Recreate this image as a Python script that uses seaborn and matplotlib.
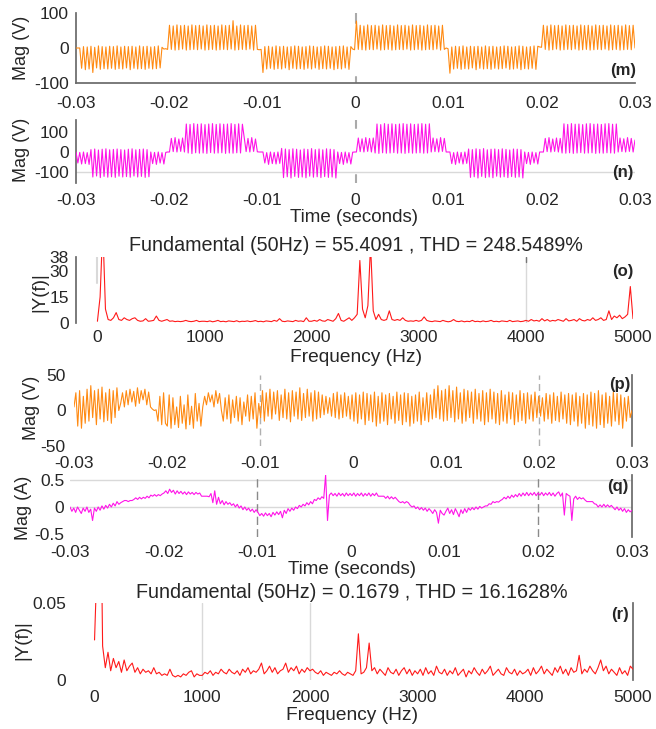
import numpy as np
import pandas as pd
import matplotlib
matplotlib.use("Agg")
import matplotlib.pyplot as plt
import seaborn as sns

sns.set_theme(style="white")
plt.rcParams['font.family'] = ['Liberation Sans', 'DejaVu Sans']

# ---------------- data ----------------
# (m) phase voltage, 0.2 ms samples, one list per 10 ms
m1 = [0,0,0,-58,4,-62,3,-60,5,-70,2,-57,6,-61,4,-59,3,-60,5,-58,4,-61,6,-59,3,-60,5,-57,4,-62,5,-58,3,-60,6,-59,4,-61,5,-58,3,-60,4,-59,6,-57,2,-3,-2,-4]
m2 = [65,-4,63,-6,66,-5,64,-3,65,-6,63,-5,66,-4,64,-5,65,-3,63,-6,66,-5,64,-4,65,-6,63,-5,66,-4,64,-5,65,-3,78,-6,63,-5,66,-4,64,-5,65,-3,63,-6,65,-4,-5,-4]
m3 = [-70,4,-60,5,-58,3,-61,6,-59,4,-60,5,-57,3,-62,4,-58,6,-60,5,-59,3,-61,4,-58,6,-60,5,-57,3,-61,4,-59,6,-60,5,-58,3,-62,4,-59,5,-60,6,-57,3,-61,4,-3,-5]
m4 = [77,-4,65,-5,63,-6,66,-4,64,-5,65,-3,63,-6,66,-5,64,-4,65,-6,63,-5,66,-4,64,-5,65,-3,63,-6,66,-5,64,-4,65,-6,63,-5,66,-4,64,-5,65,-3,63,-6,65,-4,0,-2]
m5 = [-72,3,-60,5,-58,4,-61,6,-59,3,-60,5,-57,4,-62,5,-58,3,-60,6,-59,4,-61,5,-58,3,-60,4,-59,6,-57,5,-61,3,-60,4,-58,6,-62,5,-59,3,-60,4,-58,6,-61,5,3,2]
m6 = [65,-4,63,-6,66,-5,64,-3,65,-6,63,-5,66,-4,64,-5,65,-3,63,-6,66,-5,64,-4,65,-6,63,-5,66,-4,64,-5,65,-3,63,-6,66,-5,64,-4,65,-6,63,-5,66,-4,64,-5,65,0]

# (n) line voltage
n1 = [0,-55,-2,-60,0,-58,-3,-62, 12,-125,15,-120,10,-128,14,-122,16,-126,11,-124,13,-127,15,-121,12,-125,10,-123,14,-126,16,-120,11,-125,13,-122,15,-127,12,-124, 0,-58,-2,-62,0,-55,-3,-60, -2,0]
n2 = [0,68,2,72,0,65,3,70,0, 140,-5,138,-8,142,-4,139,-6,141,-5,137,-7,140,-3,142,-6,138,-5,141,-4,139,-7,140,-5,142,-6,138,-4,141,-5,139, 70,2,68,0,72,3,65,1, 0,0]
n3 = [0,-55,-3,-62,0,-58,-2,-60,0,-57, 18,-128,15,-124,12,-130,16,-122,14,-127,10,-125,15,-129,13,-121,17,-126,12,-124,15,-128,11,-123,16,-127,14,-125,12,-130, 0,-58,-2,-62,0,-55,-3,-60,-1, 0]
n4 = [0,70,2,66,0,72,3,68,0,70, -5,140,-7,137,-4,142,-6,139,-5,141,-3,138,-6,140,-5,142,-7,139,-4,141,-6,138,-5,140,-4,142,-6,139,-5,141, 0,70,2,66,0,72,3,68, 0,0]
n5 = [0,-58,-3,-62,0,-55,-2,-60,0,-57, 15,-127,12,-124,16,-130,13,-122,17,-128,11,-125,14,-129,15,-121,12,-126,16,-124,13,-128,10,-123,15,-127,14,-125,12,-130, 0,-58,-2,-62,0,-55,-3,-60, 0,0]
n6 = [0,68,2,72,0,65,3,70,0,68, -5,141,-6,138,-4,142,-7,139,-5,140,-3,137,-6,141,-5,142,-4,139,-7,140,-5,138,-6,141,-4,142,-5,139,-6,140, 0,70,2,66,0,72,3,68,0,60]

# (o) spectrum of (n), 25 Hz bins
o1 = [1,15,55.4,8,2,1.5,3,6,2,1.5,3,2,1.5,2.5,3,1.5,1,1.2,2.5,1,1.2,1.5,4,1.5,1,1.5,2,1,1.2,0.8,1,0.8,1,1.5,1,0.8,1,1.5,0.8,1]
o2 = [1,0.8,1.2,0.7,1,1.5,0.8,1,0.7,1.2,1,0.8,1.3,0.7,1,0.9,1.2,0.8,1,1.4,0.8,1,0.7,1.2,1,0.8,1.5,1,2.5,1,0.8,1.2,1,0.8,1.5,1,1.2,0.8,3,1]
o3 = [1,1.5,1,2,1.2,1,2,1.5,1,2.5,5.5,1.5,1,2,3,1.5,3,5,36,8,3,10,45,7,2,5,2,1.5,2,7,2,1.5,2,1.5,3,1.5,1,1.2,1,1.5]
o4 = [1,1.5,3.5,1.5,1,0.8,1.2,1,0.8,1.5,1,0.7,1,2,1,0.8,1.2,0.7,1,0.8,1.5,0.8,1,0.7,1.2,0.8,1,1.5,0.8,1,0.7,1.2,1,0.8,1.5,0.8,1,1.2,0.8,1]
o5 = [1.5,1,2,1.2,1.5,1,2.5,1.2,2,1,1.5,1.2,2,1.5,1,2.5,1.2,1.5,2,1,2.5,1.5,1.2,2,1.5,3,1.5,2,3,1.5,2,7,2,4,3,4.5,2.5,3.5,5,21,2.5]

# (p) filtered voltage
p1 = [5,25,-22,28,-25,20,-18,30,-15,35,-10,28,-20,30,-12,33,-16,25,-14,30,-18,28,-10,32,0,10,25,5,28,8,30,12,27,6,32,10,28,15,30,8,26,5,2,0,1,-15,20,-20,25,-18]
p2 = [-22,22,-25,18,-20,5,-24,20,-18,8,-26,22,-20,6,-25,24,-15,10,-22,5,20,8,25,12,22,5,28,10,24,0,-15,18,-12,22,-18,15,-10,20,-15,18,-20,12,-8,22,-15,20,-12,25,-25,10]
p3 = [-10,28,-15,25,-8,30,-12,26,-5,28,-14,22,-10,30,-12,25,-16,28,-8,26,-12,32,-14,24,-10,30,-8,25,-15,28,-12,26,-10,22,-6,20,-4,18,-8,24,-10,26,-12,22,-10,25,-8,20,-12,22]
p4 = [-15,25,-18,22,-12,26,-20,24,-14,22,-16,26,-22,20,-18,25,-15,22,-20,24,-12,20,-18,26,-14,22,-20,25,-16,24,-22,20,-18,22,-15,26,-20,18,-14,25,-16,22,-12,30,-10,35,-12,28,-15,30]
p5 = [-14,35,-10,28,-16,33,-12,25,-18,30,-15,28,-10,26,-18,30,-12,24,-15,28,-20,25,-16,30,-12,26,-18,24,-20,28,-15,22,-18,26,-12,25,-20,22,-16,28,-14,24,-18,25,-12,22,-15,26,-10,20]
p6 = [-8,18,-15,24,-12,22,-18,25,-14,20,-16,26,-12,22,-18,24,-20,22,-15,25,-22,20,-18,24,-25,22,-20,26,-22,24,-25,28,-20,22,-24,25,-18,20,-22,26,-15,24,-20,22,-25,18,-15,20,-10,0]

# (q) current
q1 = [0,-0.08,-0.02,-0.1,0.0,-0.06,-0.12,-0.02,-0.08,0.0,-0.1,-0.04,-0.25,-0.02,-0.08,0.0,-0.06,0.02,-0.04,0.03,
      -0.02,0.05,0.0,0.07,0.02,0.1,0.05,0.08,0.1,0.12,0.12,0.1,0.12,0.12,0.14,0.17,0.14,0.18,0.15,0.18,
      0.16,0.2,0.17,0.22,0.2,0.23,0.2,0.23,0.21,0.24]
q2 = [0.26,0.3,0.25,0.33,0.27,0.31,0.24,0.3,0.25,0.29,0.24,0.28,0.23,0.28,0.24,0.27,0.23,0.27,0.24,0.26,
      0.2,0.2,0.2,0.2,0.19,0.25,0.08,0.3,0.05,0.18,0.06,0.12,0.04,0.1,0.05,0.08,0.03,0.06,0.0,0.05,
      -0.02,0.02,-0.05,0.0,-0.06,-0.02,-0.08,-0.04,-0.1,-0.05]
q3 = [-0.1,-0.16,-0.12,-0.17,-0.11,-0.16,-0.12,-0.18,-0.1,-0.15,-0.09,-0.14,-0.08,-0.2,-0.06,-0.12,-0.03,-0.08,-0.02,-0.06,
      0.0,-0.03,0.03,0.0,0.05,0.02,0.08,0.04,0.1,0.06,0.14,0.12,0.17,0.14,0.19,0.16,0.6,-0.25,0.22,0.26,
      0.21,0.25,0.2,0.26,0.21,0.25,0.2,0.26,0.21,0.25]
q4 = [0.21,0.26,0.2,0.25,0.21,0.26,0.2,0.25,0.21,0.26,0.2,0.25,0.21,0.26,0.2,0.2,0.2,0.2,0.16,0.2,
      0.15,0.19,0.15,0.18,0.14,0.1,0.08,0.1,0.07,0.1,0.08,0.03,0.0,0.02,-0.03,0.0,-0.05,-0.01,-0.06,-0.02,
      -0.08,-0.03,-0.07,-0.12,-0.05,-0.1,-0.3,-0.06,-0.12,-0.15]
q5 = [-0.08,-0.02,-0.12,-0.05,-0.14,-0.03,-0.1,-0.18,-0.05,-0.12,-0.03,-0.1,-0.02,-0.06,-0.01,-0.05,0.0,-0.04,0.01,-0.02,
      0.0,0.02,0.02,0.06,0.05,0.1,0.08,0.1,0.09,0.12,0.14,0.18,0.15,0.2,0.16,0.22,0.18,0.23,0.19,0.25,
      0.2,0.26,0.21,0.27,0.21,0.26,0.22,0.27,0.21,0.26]
q6 = [0.22,0.27,0.21,0.26,0.22,0.27,0.21,0.26,0.2,0.25,0.28,0.2,0.26,-0.15,0.25,0.22,0.2,-0.25,0.15,0.2,
      0.14,0.18,0.15,0.17,0.13,0.1,0.1,0.1,0.1,0.06,0.05,0.0,0.04,0.0,0.05,0.0,0.04,0.0,0.03,-0.01,
      -0.05,0.0,-0.06,-0.02,-0.08,-0.03,-0.1,-0.05,-0.09,-0.06]

# (r) spectrum of (q), 25 Hz bins
r1 = [0.026,0.08,0.1679,0.022,0.008,0.018,0.006,0.014,0.008,0.012,0.005,0.013,0.006,0.009,0.011,0.005,0.008,0.004,0.007,0.005,0.006,0.004,0.008,0.004,0.005,0.003,0.004,0.003,0.007,0.003,0.002,0.003,0.002,0.004,0.003,0.005,0.006,0.002,0.004,0.003]
r2 = [0.003,0.005,0.004,0.006,0.003,0.005,0.004,0.007,0.005,0.004,0.007,0.005,0.004,0.006,0.003,0.007,0.005,0.008,0.004,0.006,0.005,0.007,0.011,0.004,0.006,0.009,0.005,0.008,0.004,0.006,0.007,0.011,0.005,0.008,0.006,0.009,0.004,0.007,0.005,0.008]
r3 = [0.006,0.007,0.005,0.004,0.006,0.003,0.005,0.004,0.003,0.005,0.004,0.006,0.004,0.003,0.005,0.004,0.003,0.006,0.030,0.004,0.005,0.008,0.024,0.006,0.008,0.004,0.007,0.005,0.003,0.008,0.005,0.004,0.007,0.003,0.006,0.008,0.004,0.007,0.003,0.006]
r4 = [0.004,0.007,0.003,0.008,0.004,0.006,0.003,0.009,0.005,0.004,0.007,0.003,0.006,0.004,0.008,0.003,0.005,0.007,0.002,0.006,0.004,0.008,0.005,0.003,0.007,0.004,0.006,0.009,0.003,0.005,0.007,0.004,0.003,0.008,0.005,0.004,0.007,0.003,0.006,0.004]
r5 = [0.005,0.007,0.003,0.008,0.004,0.006,0.009,0.004,0.007,0.005,0.003,0.008,0.005,0.009,0.004,0.007,0.003,0.008,0.005,0.006,0.016,0.004,0.007,0.005,0.009,0.006,0.004,0.008,0.013,0.006,0.009,0.004,0.007,0.005,0.003,0.008,0.004,0.006,0.003,0.009,0.007]

time_ticks = [-0.03, -0.02, -0.01, 0, 0.01, 0.02, 0.03]
time_labels = ['-0.03', '-0.02', '-0.01', '0', '0.01', '0.02', '0.03']
freq_ticks = [0, 1000, 2000, 3000, 4000, 5000]
title_o = "Fundamental (50Hz) = 55.4091 , THD = 248.5489%"
title_r = "Fundamental (50Hz) = 0.1679 , THD = 16.1628%"

# ---------------- build ----------------
m = m1 + m2 + m3 + m4 + m5 + m6
n = n1 + n2 + n3 + n4 + n5 + n6
o = o1 + o2 + o3 + o4 + o5
p = p1 + p2 + p3 + p4 + p5 + p6
q = q1 + q2 + q3 + q4 + q5 + q6
r = r1 + r2 + r3 + r4 + r5

ORANGE = '#ff8a12'
MAGENTA = '#ff14e8'
RED = '#ff1a1a'
TXT = '#262626'
SPINE = '#6a6a6a'
GRID = '#d9d9d9'

W, H = 656, 729
fig = plt.figure(figsize=(W / 100, H / 100), dpi=100)
fig.patch.set_facecolor('white')


def pax(x0, y0, x1, y1):
    return fig.add_axes([x0 / W, 1 - y1 / H, (x1 - x0) / W, (y1 - y0) / H])


def draw(ax, x, y, color):
    df = pd.DataFrame({'x': x, 'y': y})
    sns.lineplot(data=df, x='x', y='y', ax=ax, color=color, linewidth=0.8,
                 estimator=None, sort=False, zorder=3)
    ax.set_xlabel('')
    ax.set_ylabel('')
    for s in ax.spines.values():
        s.set_visible(False)
    ax.set_facecolor('none')
    ax.tick_params(length=0, labelsize=12.5, colors=TXT)


def ftxt(x, y, s, size=12.5, rot=0, weight='normal', ha='center'):
    fig.text(x / W, 1 - y / H, s, ha=ha, va='center', fontsize=size,
             rotation=rot, color=TXT, fontweight=weight)


def tlin(N):
    return np.linspace(-0.03, 0.03, N)


def flin(N):
    return np.linspace(0, 5000, N)


# (m)
ax = pax(76, 13, 635, 83)
draw(ax, tlin(len(m)), m, ORANGE)
ax.set_xlim(-0.03, 0.03); ax.set_ylim(-100, 100)
ax.set_yticks([-100, 0, 100]); ax.set_yticklabels(['-100', '0', '100'])
ax.set_xticks(time_ticks); ax.set_xticklabels(time_labels)
ax.spines['left'].set_visible(True); ax.spines['left'].set_color(SPINE)
ax.spines['bottom'].set_visible(True); ax.spines['bottom'].set_color(SPINE)
ax.axvline(0, ymin=0.86, ymax=1, color='#aaaaaa', lw=1.5, zorder=1)
ax.axvline(0, ymin=0, ymax=0.08, color='#aaaaaa', lw=1.5, zorder=1)
ax.tick_params(axis='x', pad=9); ax.tick_params(axis='y', pad=5)
ftxt(22, 48, 'Mag (V)', rot=90, size=13)
ftxt(623, 70, '(m)', size=12, weight='bold')

# (n)
ax = pax(76, 120, 635, 183)
draw(ax, tlin(len(n)), n, MAGENTA)
ax.set_xlim(-0.03, 0.03); ax.set_ylim(-155, 160)
ax.set_yticks([-100, 0, 100]); ax.set_yticklabels(['-100', '0', '100'])
ax.set_xticks(time_ticks); ax.set_xticklabels(time_labels)
ax.spines['left'].set_visible(True); ax.spines['left'].set_color(SPINE)
ax.axhline(-100, color=GRID, lw=1, zorder=1)
ax.axvline(0, ymin=0.88, ymax=1, color='#aaaaaa', lw=1.5, zorder=1)
ax.axvline(0, ymin=0, ymax=0.13, color='#aaaaaa', lw=1.5, zorder=1)
ax.tick_params(axis='x', pad=7); ax.tick_params(axis='y', pad=5)
ftxt(22, 150, 'Mag (V)', rot=90, size=13)
ftxt(623, 172, '(n)', size=12, weight='bold')
ftxt(354, 218, 'Time (seconds)', size=13.5)

# (o)
ax = pax(76, 257, 633, 323)
draw(ax, flin(len(o)), o, RED)
ax.set_xlim(-200, 5000); ax.set_ylim(0, 38)
ax.set_yticks([0, 15, 30, 38]); ax.set_yticklabels(['0', '15', '30', '38'])
ax.set_xticks(freq_ticks); ax.set_xticklabels([str(v) for v in freq_ticks])
ax.spines['left'].set_visible(True); ax.spines['left'].set_color(SPINE)
ax.axvline(4000, color=GRID, lw=1, zorder=1)
ax.axvline(4000, ymin=0.93, ymax=1, color='#777777', lw=1, zorder=1)
ax.axvline(0, ymin=0.6, ymax=1, color=GRID, lw=1.5, zorder=1)
ax.tick_params(axis='x', pad=5); ax.tick_params(axis='y', pad=5)
ftxt(356, 245, title_o, size=14.2)
ftxt(40, 292, '|Y(f)|', rot=90, size=13.5)
ftxt(623, 271, '(o)', size=12, weight='bold')
ftxt(356, 357, 'Frequency (Hz)', size=13.8)

# (p)
ax = pax(74, 375, 632, 446)
draw(ax, tlin(len(p)), p, ORANGE)
ax.set_xlim(-0.03, 0.03); ax.set_ylim(-50, 50)
ax.set_yticks([-50, 0, 50]); ax.set_yticklabels(['-50', '0', '50'])
ax.set_xticks(time_ticks); ax.set_xticklabels(time_labels)
ax.spines['right'].set_visible(True); ax.spines['right'].set_color(SPINE)
ax.axvline(-0.01, color='#b0b0b0', lw=1, ls=(0, (5, 3)), zorder=1)
ax.axvline(0.02, color='#b0b0b0', lw=1, ls=(0, (5, 3)), zorder=1)
ax.tick_params(axis='x', pad=7); ax.tick_params(axis='y', pad=6)
ftxt(32, 408, 'Mag (V)', rot=90, size=13)
ftxt(620, 385, '(p)', size=12, weight='bold')

# (q)
ax = pax(70, 475, 632, 537)
draw(ax, tlin(len(q)), q, MAGENTA)
ax.set_xlim(-0.03, 0.03); ax.set_ylim(-0.556, 0.593)
ax.set_yticks([-0.5, 0, 0.5]); ax.set_yticklabels(['-0.5', '0', '0.5'])
ax.set_xticks(time_ticks); ax.set_xticklabels(time_labels)
ax.spines['right'].set_visible(True); ax.spines['right'].set_color(SPINE)
ax.axhline(0.5, color=GRID, lw=1, zorder=1)
ax.axhline(0, color=GRID, lw=1, zorder=1)
ax.axvline(-0.01, color='#8a8a8a', lw=1, ls=(0, (6, 3)), zorder=1)
ax.axvline(0.02, color='#8a8a8a', lw=1, ls=(0, (6, 3)), zorder=1)
ax.tick_params(axis='x', pad=6); ax.tick_params(axis='y', pad=4)
ftxt(24, 508, 'Mag (A)', rot=90, size=13)
ftxt(618, 487, '(q)', size=12, weight='bold')
ftxt(352, 569, 'Time (seconds)', size=13.5)

# (r)
ax = pax(73, 603, 633, 680)
draw(ax, flin(len(r)), r, RED)
ax.set_xlim(-200, 5000); ax.set_ylim(0, 0.05)
ax.set_yticks([0, 0.05]); ax.set_yticklabels(['0', '0.05'])
ax.set_xticks(freq_ticks); ax.set_xticklabels([str(v) for v in freq_ticks])
ax.spines['right'].set_visible(True); ax.spines['right'].set_color(SPINE)
ax.axvline(1000, color=GRID, lw=1, zorder=1)
ax.axvline(2000, color=GRID, lw=1, zorder=1)
ax.tick_params(axis='x', pad=7); ax.tick_params(axis='y', pad=5)
ftxt(352, 593, title_r, size=14.2)
ftxt(23, 640, '|Y(f)|', rot=90, size=13.5)
ftxt(620, 615, '(r)', size=12, weight='bold')
ftxt(352, 716, 'Frequency (Hz)', size=13.8)

fig.savefig('out.png', dpi=100, facecolor='white')
